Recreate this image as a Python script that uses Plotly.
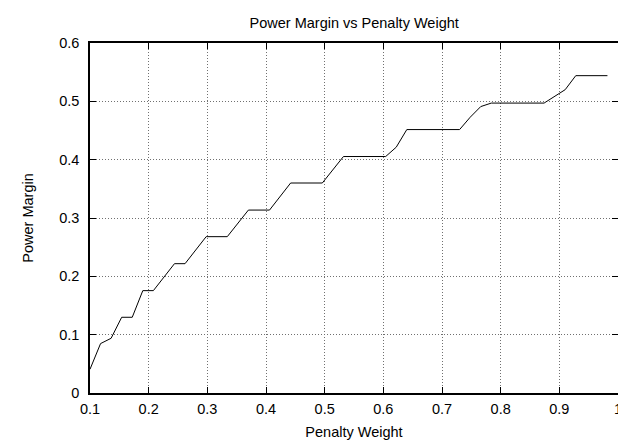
import plotly.graph_objects as go

penalty_weight = [0.100, 0.118, 0.136, 0.154, 0.172, 0.190, 0.208, 0.244, 0.262,
                  0.298, 0.334, 0.370, 0.406, 0.442, 0.496, 0.532, 0.604, 0.622,
                  0.640, 0.730, 0.748, 0.766, 0.784, 0.874, 0.910, 0.928, 0.982]
power_margin = [0.0407, 0.0847, 0.0938, 0.1298, 0.1298, 0.1755, 0.1755, 0.2217, 0.2217,
                0.268, 0.268, 0.3136, 0.3136, 0.360, 0.360, 0.4054, 0.4054, 0.4214,
                0.4516, 0.4516, 0.4727, 0.491, 0.497, 0.497, 0.520, 0.544, 0.544]

x_ticks = [0.1, 0.2, 0.3, 0.4, 0.5, 0.6, 0.7, 0.8, 0.9, 1.0]
x_tick_labels = ["0.1", "0.2", "0.3", "0.4", "0.5", "0.6", "0.7", "0.8", "0.9", "1"]
y_ticks = [0, 0.1, 0.2, 0.3, 0.4, 0.5, 0.6]
y_tick_labels = ["0", "0.1", "0.2", "0.3", "0.4", "0.5", "0.6"]

font_family = "Liberation Sans, Arial, sans-serif"
font_size = 14.5

fig = go.Figure()
fig.add_trace(go.Scatter(x=penalty_weight, y=power_margin, mode="lines",
                         line=dict(color="black", width=1), showlegend=False))

axis_common = dict(
    showline=True, linecolor="black", linewidth=1.5, mirror="ticks",
    ticks="inside", ticklen=6, tickcolor="black", tickwidth=1,
    showgrid=True, gridcolor="#707070", griddash="1px,2px", gridwidth=1,
    zeroline=False, tickfont=dict(family=font_family, size=font_size, color="black"),
)

fig.update_layout(
    width=626, height=441,
    margin=dict(l=82, r=16, t=35, b=56),
    paper_bgcolor="white", plot_bgcolor="white",
    title=dict(text="Power Margin vs Penalty Weight", x=0.553, xanchor="center",
               y=1 - 15 / 441, yanchor="middle",
               font=dict(family=font_family, size=font_size, color="black")),
    xaxis=dict(range=[0.1, 1.0], tickvals=x_ticks, ticktext=x_tick_labels,
               ticklabelstandoff=2,
               title=dict(text="Penalty Weight", standoff=11,
                          font=dict(family=font_family, size=font_size, color="black")),
               **axis_common),
    yaxis=dict(range=[0, 0.6], tickvals=y_ticks, ticktext=y_tick_labels,
               ticklabelstandoff=6,
               title=dict(text="Power Margin", standoff=22,
                          font=dict(family=font_family, size=font_size, color="black")),
               **axis_common),
)

fig.write_html("out.html")
